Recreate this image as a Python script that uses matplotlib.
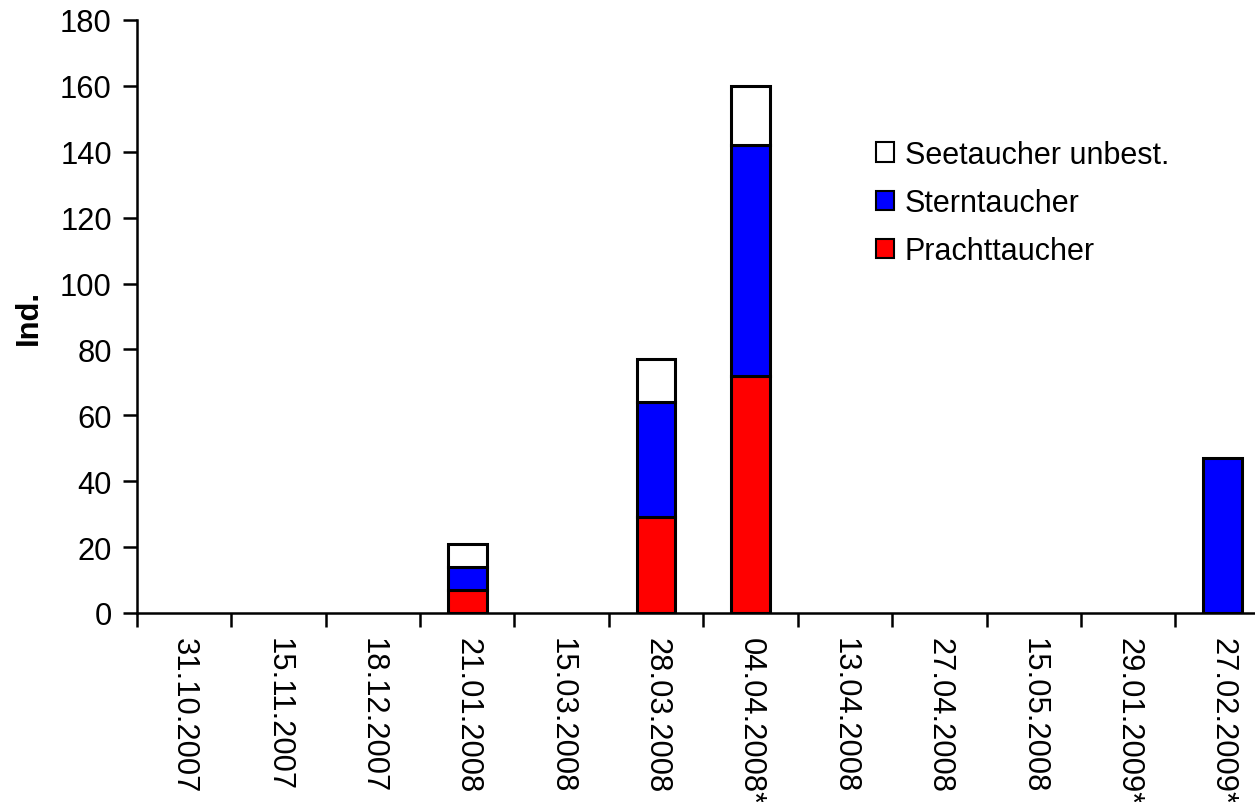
import matplotlib
matplotlib.use("Agg")
import matplotlib.pyplot as plt
import numpy as np

plt.rcParams['font.family'] = ['Liberation Sans', 'DejaVu Sans']

dates = ["31.10.2007", "15.11.2007", "18.12.2007", "21.01.2008", "15.03.2008",
         "28.03.2008", "04.04.2008*", "13.04.2008", "27.04.2008", "15.05.2008",
         "29.01.2009*", "27.02.2009*"]
prachttaucher = [0, 0, 0, 7, 0, 29, 72, 0, 0, 0, 0, 0]
sterntaucher = [0, 0, 0, 7, 0, 35, 70, 0, 0, 0, 0, 47]
seetaucher_unbest = [0, 0, 0, 7, 0, 13, 18, 0, 0, 0, 0, 0]

fig = plt.figure(figsize=(12.55, 8.03), dpi=100)
ax = fig.add_axes([0.109, 0.2354, 0.9028, 0.7385])
ax.spines["bottom"].set_clip_on(False)

x = np.arange(len(dates))
p = np.array(prachttaucher)
s = np.array(sterntaucher)
u = np.array(seetaucher_unbest)
w = 0.41
kw = dict(width=w, edgecolor="black", linewidth=2.2)
b1 = ax.bar(x, p, color="#FF0000", **kw)
b2 = ax.bar(x, s, bottom=p, color="#0000FF", **kw)
b3 = ax.bar(x, u, bottom=p + s, color="white", **kw)
# hide outlines for zero-height segments
for bars, vals in ((b1, p), (b2, s), (b3, u)):
    for r, v in zip(bars, vals):
        if v == 0:
            r.set_visible(False)

fs = 22.2
ax.set_xlim(-0.5, len(dates) - 0.5)
ax.set_ylim(0, 180)
ax.set_yticks(np.arange(0, 181, 20))
ax.tick_params(axis="y", labelsize=fs, length=10, width=1.8, direction="out", pad=8)

ax.set_xticks(x)
ax.set_xticklabels(dates, rotation=270, fontsize=fs)
ax.tick_params(axis="x", which="major", length=0, pad=17)
ax.set_xticks(np.arange(-0.5, len(dates), 1.0), minor=True)
ax.tick_params(axis="x", which="minor", length=10, width=1.8, direction="out")

for side in ("top", "right"):
    ax.spines[side].set_visible(False)
for side in ("left", "bottom"):
    ax.spines[side].set_linewidth(1.8)

ax.set_ylabel("Ind.", fontsize=fs, fontweight="bold", labelpad=12)

handles = [plt.Rectangle((0, 0), 1, 1, fc="white", ec="black", lw=1.5),
           plt.Rectangle((0, 0), 1, 1, fc="#0000FF", ec="black", lw=1.5),
           plt.Rectangle((0, 0), 1, 1, fc="#FF0000", ec="black", lw=1.5)]
fig.legend(handles, ["Seetaucher unbest.", "Sterntaucher", "Prachttaucher"],
           loc="upper left", bbox_to_anchor=(0.688, 0.840), frameon=False,
           fontsize=22, handlelength=0.6, handleheight=0.6,
           handletextpad=0.35, labelspacing=0.6, borderaxespad=0)

fig.savefig("out.png", dpi=100)
